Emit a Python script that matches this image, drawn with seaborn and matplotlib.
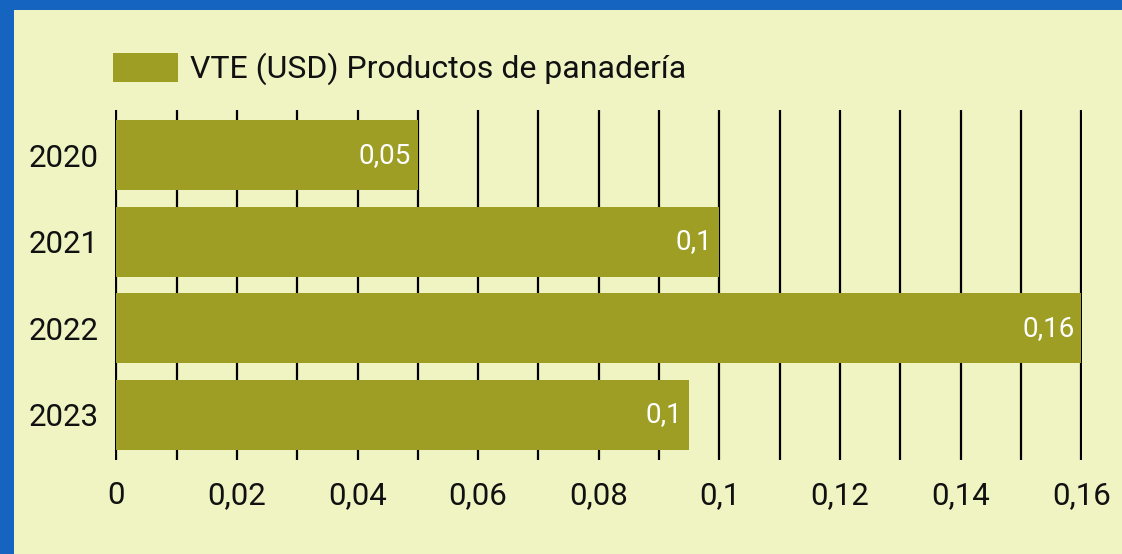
import matplotlib
matplotlib.use("Agg")
import matplotlib.pyplot as plt
from matplotlib.patches import Rectangle
import numpy as np
import pandas as pd
import seaborn as sns

# Data
years = ["2020", "2021", "2022", "2023"]
values = [0.05, 0.10, 0.16, 0.095]
series_name = "VTE (USD) Productos de panadería"
tick_values = [0, 0.02, 0.04, 0.06, 0.08, 0.10, 0.12, 0.14, 0.16]
tick_labels = ["0", "0,02", "0,04", "0,06", "0,08", "0,1", "0,12", "0,14", "0,16"]
grid_values = [i / 100 for i in range(17)]

BG = "#F0F4C3"
BAR = "#9E9D24"
FRAME = "#1565C0"

sns.set_theme(style="white")
plt.rcParams["font.family"] = ["Roboto", "DejaVu Sans"]

df = pd.DataFrame({"year": years, "value": values})

fig = plt.figure(figsize=(11.22, 5.54), dpi=100, facecolor=BG)
ax = fig.add_axes([115 / 1122, 1 - 460 / 554, (1082 - 115) / 1122, 350 / 554])
ax.set_facecolor(BG)

sns.barplot(data=df, x="value", y="year", orient="h", color=BAR, saturation=1,
            width=0.81, label=series_name, ax=ax, zorder=3, linewidth=0)

ax.set_xlim(-0.0002, 0.1601)
ax.set_ylim(3.52, -0.52)
ax.set_xticks(tick_values)
ax.set_xticklabels(tick_labels)
ax.set_xticks(grid_values, minor=True)
ax.grid(True, axis="x", which="both", color="black", linewidth=1.6, zorder=0)
ax.set_axisbelow(True)
ax.tick_params(axis="both", which="both", length=0, labelsize=22.5, colors="#111111")
ax.tick_params(axis="x", pad=15)
ax.tick_params(axis="y", pad=12)
ax.set_xlabel("")
ax.set_ylabel("")
for s in ax.spines.values():
    s.set_visible(False)

# Value labels inside bar ends
for i, v in enumerate(values):
    txt = f"{round(v, 2):g}".replace(".", ",")
    ax.annotate(txt, xy=(v, i), xytext=(-5, 0), textcoords="offset points",
                ha="right", va="center", color="white", fontsize=20, zorder=4)

leg = ax.legend(loc="center left", bbox_to_anchor=(113 / 1122, 1 - 69 / 554),
                bbox_transform=fig.transFigure, frameon=False, fontsize=23,
                handlelength=2.03, handleheight=1.03, handletextpad=0.38,
                borderaxespad=0, borderpad=0)
for t in leg.get_texts():
    t.set_color("#111111")

# Blue frame along the top and left edges
fig.patches.append(Rectangle((0, 1 - 10 / 554), 1, 10 / 554, transform=fig.transFigure,
                             facecolor=FRAME, edgecolor="none", zorder=10))
fig.patches.append(Rectangle((0, 0), 14 / 1122, 1, transform=fig.transFigure,
                             facecolor=FRAME, edgecolor="none", zorder=10))

fig.savefig("out.png", dpi=100, facecolor=BG)
